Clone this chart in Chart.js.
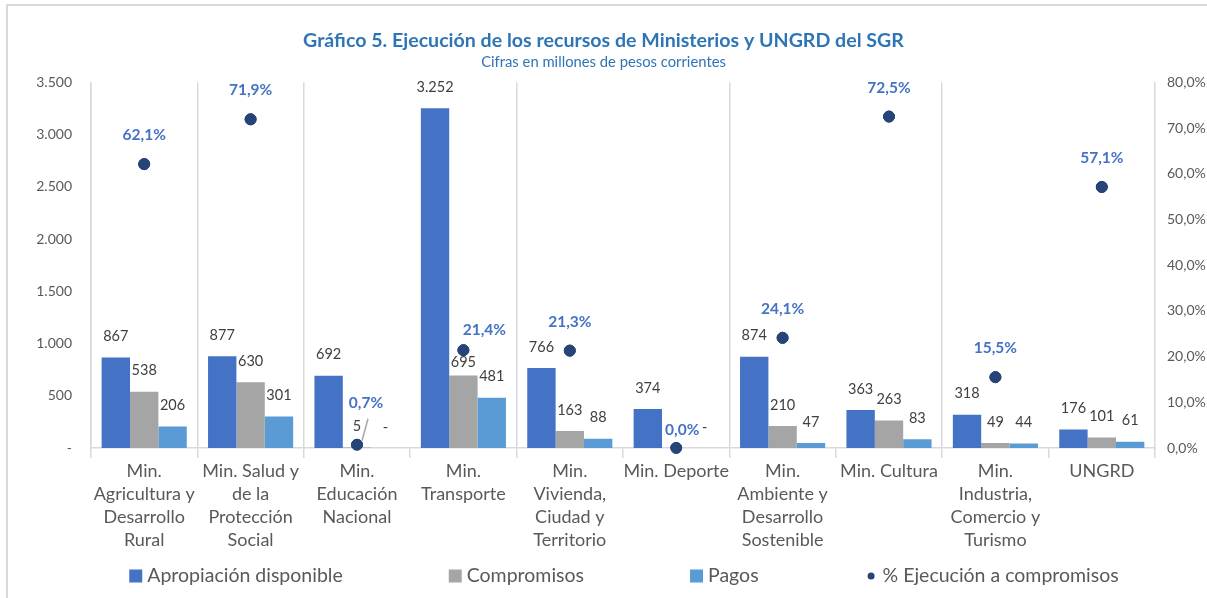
<!DOCTYPE html>
<html>
<head>
<meta charset="utf-8">
<script src="https://cdn.jsdelivr.net/npm/chart.js@4"></script>
<style>
  html, body { margin: 0; padding: 0; background: #fff; overflow: hidden; }
  #wrap { position: relative; width: 1207px; height: 598px; }
  #frame { position: absolute; left: 6px; top: 4px; width: 1400px; height: 800px;
           border-left: 2px solid #D9D9D9; border-top: 2px solid #D9D9D9; pointer-events: none; }
  canvas { position: absolute; left: 0; top: 0; }
</style>
</head>
<body>
<div id="wrap">
  <canvas id="c" width="1207" height="598"></canvas>
  <div id="frame"></div>
</div>
<script>
// ---- Data ----
const categories = [
  ['Min.', 'Agricultura y', 'Desarrollo', 'Rural'],
  ['Min. Salud y', 'de la', 'Protección', 'Social'],
  ['Min.', 'Educación', 'Nacional'],
  ['Min.', 'Transporte'],
  ['Min.', 'Vivienda,', 'Ciudad y', 'Territorio'],
  ['Min. Deporte'],
  ['Min.', 'Ambiente y', 'Desarrollo', 'Sostenible'],
  ['Min. Cultura'],
  ['Min.', 'Industria,', 'Comercio y', 'Turismo'],
  ['UNGRD']
];
const apropiacion = [867, 877, 692, 3252, 766, 374, 874, 363, 318, 176];
const compromisos = [538, 630, 5, 695, 163, 0, 210, 263, 49, 101];
const pagos = [206, 301, 0, 481, 88, 0, 47, 83, 44, 61];
const ejecucionPct = [62.1, 71.9, 0.7, 21.4, 21.3, 0.0, 24.1, 72.5, 15.5, 57.1];

const seriesNames = ['Apropiación disponible', 'Compromisos', 'Pagos', '% Ejecución a compromisos'];
const titleText = 'Gráfico 5. Ejecución de los recursos de Ministerios y UNGRD del SGR';
const subtitleText = 'Cifras en millones de pesos corrientes';

// label placement tweaks (style/position only)
const pctLabelOffsets = { 2: [9, -42, true], 3: [21, -20], 5: [6, -18] };
const barLabelOffsets = { '1-3': -13 };   // datasetIndex-categoryIndex : dy
const visibleBoundaries = [0, 1, 2, 4, 6, 8, 10];

// ---- Helpers ----
const FONT = 'Lato, "Open Sans", sans-serif';
function fmtThousands(v) {
  if (v === 0) return '-';
  return String(Math.round(v)).replace(/\B(?=(\d{3})+(?!\d))/g, '.');
}
function fmtPct(v) { return v.toFixed(1).replace('.', ',') + '%'; }

const labelsPlugin = {
  id: 'valueLabels',
  afterDatasetsDraw(chart) {
    const ctx = chart.ctx;
    ctx.save();
    ctx.textAlign = 'center';
    ctx.textBaseline = 'middle';
    ctx.font = '14.5px ' + FONT;
    ctx.fillStyle = '#404040';
    chart.data.datasets.forEach((ds, di) => {
      if (ds.type === 'line') return;
      const meta = chart.getDatasetMeta(di);
      meta.data.forEach((el, i) => {
        const dy = barLabelOffsets[di + '-' + i] ?? -21;
        ctx.fillText(fmtThousands(ds.data[i]), el.x, el.y + dy);
      });
    });
    const li = chart.data.datasets.findIndex(d => d.type === 'line');
    const meta = chart.getDatasetMeta(li);
    ctx.font = 'bold 15.5px ' + FONT;
    meta.data.forEach((el, i) => {
      const v = chart.data.datasets[li].data[i];
      const off = pctLabelOffsets[i] || [0, -29];
      const tx = el.x + off[0], ty = el.y + off[1];
      const txt = fmtPct(v);
      const w = ctx.measureText(txt).width;
      if (off[2]) {
        ctx.strokeStyle = '#A6A6A6';
        ctx.lineWidth = 1.5;
        ctx.beginPath();
        ctx.moveTo(el.x + 5, el.y - 4);
        ctx.lineTo(el.x + 11, el.y - 26);
        ctx.stroke();
      }
      ctx.fillStyle = '#ffffff';
      ctx.fillRect(tx - w / 2, ty - 7, w, 14);
      ctx.fillStyle = '#4472C4';
      ctx.fillText(txt, tx, ty);
    });
    meta.data.forEach(el => el.draw(ctx));
    ctx.restore();
  }
};

const legendPlugin = {
  id: 'customLegend',
  afterDraw(chart) {
    const ctx = chart.ctx;
    const ds = chart.data.datasets;
    const y = 576, gap = 106, box = 13, txtOff = 18, center = 624;
    ctx.save();
    ctx.font = '19.5px ' + FONT;
    const widths = ds.map(d => ctx.measureText(d.label).width);
    const total = widths.reduce((a, w) => a + txtOff + w, 0) + gap * (ds.length - 1);
    let x = center - total / 2;
    ds.forEach((d, i) => {
      ctx.fillStyle = d.backgroundColor;
      if (d.type === 'line') {
        ctx.beginPath();
        ctx.arc(x + box / 2, y, 3.5, 0, Math.PI * 2);
        ctx.fill();
      } else {
        ctx.fillRect(x, y - box / 2, box, box);
      }
      ctx.fillStyle = '#595959';
      ctx.textAlign = 'left';
      ctx.textBaseline = 'middle';
      ctx.fillText(d.label, x + txtOff, y);
      x += txtOff + widths[i] + gap;
    });
    ctx.restore();
  }
};

const chart = new Chart(document.getElementById('c'), {
  type: 'bar',
  data: {
    labels: categories,
    datasets: [
      { label: seriesNames[0], data: apropiacion, backgroundColor: '#4472C4', yAxisID: 'y', order: 1 },
      { label: seriesNames[1], data: compromisos, backgroundColor: '#A5A5A5', yAxisID: 'y', order: 2 },
      { label: seriesNames[2], data: pagos, backgroundColor: '#5B9BD5', yAxisID: 'y', order: 3 },
      { type: 'line', label: seriesNames[3], data: ejecucionPct, yAxisID: 'y1', showLine: false,
        backgroundColor: '#264478', borderColor: '#264478', pointRadius: 5.5, pointHoverRadius: 5.5, order: 0 }
    ]
  },
  options: {
    responsive: false,
    animation: false,
    categoryPercentage: 0.8,
    barPercentage: 1.0,
    layout: { padding: { left: 0, right: 0, top: 0, bottom: 50 } },
    plugins: {
      legend: { display: false },
      tooltip: { enabled: false },
      title: { display: true, text: titleText, color: '#2E75B6',
               font: { family: FONT, size: 19.6, weight: 'bold' }, padding: { top: 29, bottom: 1 } },
      subtitle: { display: true, text: subtitleText, color: '#2E75B6',
                  font: { family: FONT, size: 14.8 }, padding: { top: 0, bottom: 11 } }
    },
    scales: {
      x: {
        offset: true,
        grid: {
          offset: true,
          color: ctx => visibleBoundaries.includes(ctx.index) ? '#D9D9D9' : 'rgba(0,0,0,0)',
          tickColor: '#D9D9D9',
          lineWidth: 1.5,
          tickLength: 10
        },
        border: { display: true, color: '#D9D9D9', width: 1.5 },
        ticks: { color: '#595959', font: { family: FONT, size: 18, lineHeight: 1.27 }, padding: 2,
                 maxRotation: 0, autoSkip: false },
        afterFit: s => { s.height = 100; }
      },
      y: {
        position: 'left', min: 0, max: 3500,
        grid: { display: false, drawTicks: false },
        border: { display: true, color: '#D9D9D9', width: 1.5 },
        ticks: { stepSize: 500, color: '#595959', font: { family: FONT, size: 14 }, padding: 19,
                 callback: v => fmtThousands(v) },
        afterFit: s => { s.width = 91; }
      },
      y1: {
        position: 'right', min: 0, max: 80,
        grid: { display: false, drawTicks: false },
        border: { display: true, color: '#D9D9D9', width: 1.5 },
        ticks: { stepSize: 10, color: '#595959', font: { family: FONT, size: 14 }, padding: 12,
                 callback: v => fmtPct(v) },
        afterFit: s => { s.width = 52; }
      }
    }
  },
  plugins: [labelsPlugin, legendPlugin]
});
</script>
</body>
</html>
